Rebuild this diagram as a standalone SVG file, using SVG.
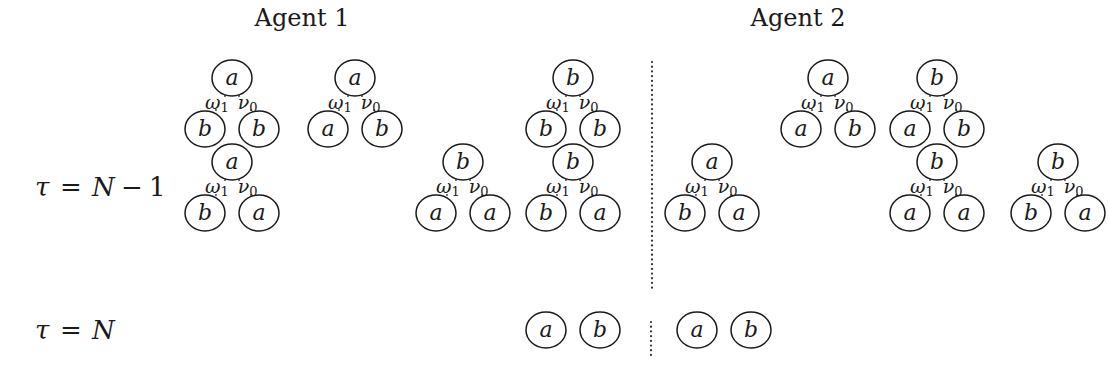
<svg xmlns="http://www.w3.org/2000/svg" width="1108" height="386" viewBox="0 0 1108 386">
  <style>
    .node text { font-family: "DejaVu Serif", "Liberation Serif", serif; font-style: italic; font-size: 22px; fill: #1a1a1a; text-anchor: middle; }
    .stub { stroke: #1a1a1a; stroke-width: 1.2; }
    .lbl { font-family: "DejaVu Serif", "Liberation Serif", serif; font-style: italic; font-size: 19px; fill: #1a1a1a; }
    .sub { font-style: normal; font-size: 13px; }
    .title { font-family: "DejaVu Serif", "Liberation Serif", serif; font-size: 24px; fill: #1a1a1a; text-anchor: middle; }
    .math { font-family: "DejaVu Serif", "Liberation Serif", serif; font-size: 26px; fill: #1a1a1a; }
    .it { font-style: italic; }
    .sep { stroke: #333; stroke-width: 2.2; stroke-dasharray: 0.1 4.6; stroke-linecap: round; }
  </style>
  <defs>
    <ellipse id="ring" cx="0" cy="0" rx="20" ry="18" fill="none" stroke="#1a1a1a" stroke-width="1.5"/>
  </defs>

  <rect width="1108" height="386" fill="#ffffff"/>

  <!-- headings -->
  <text class="title" x="302" y="26">Agent 1</text>
  <text class="title" x="798" y="26">Agent 2</text>

  <!-- time step labels -->
  <text class="math" y="196"><tspan class="it" x="35">τ</tspan><tspan x="60">=</tspan><tspan class="it" x="92">N</tspan><tspan x="121">−</tspan><tspan x="149">1</tspan></text>
  <text class="math" y="339"><tspan class="it" x="35">τ</tspan><tspan x="60">=</tspan><tspan class="it" x="92">N</tspan></text>

  <!-- separator between agents -->
  <line class="sep" x1="652" y1="62" x2="652" y2="290"/>
  <line class="sep" x1="651" y1="322" x2="651" y2="356"/>

  <!-- edge stubs and action labels -->
  <g id="connectors">
    <g id="edges-a1-t1">
      <line class="stub" x1="225" y1="95" x2="225" y2="97"/><line class="stub" x1="239" y1="95" x2="239" y2="97"/>
      <line class="stub" x1="216" y1="111" x2="216" y2="109"/><line class="stub" x1="251" y1="111" x2="251" y2="109"/>
      <text class="lbl" x="205" y="109">ω<tspan class="sub" dy="3">1</tspan><tspan dy="-3" dx="9">ν</tspan><tspan class="sub" dy="3">0</tspan></text>
    </g>
    <g id="edges-a1-t2">
      <line class="stub" x1="348" y1="95" x2="348" y2="97"/><line class="stub" x1="362" y1="95" x2="362" y2="97"/>
      <line class="stub" x1="339" y1="111" x2="339" y2="109"/><line class="stub" x1="374" y1="111" x2="374" y2="109"/>
      <text class="lbl" x="328" y="109">ω<tspan class="sub" dy="3">1</tspan><tspan dy="-3" dx="9">ν</tspan><tspan class="sub" dy="3">0</tspan></text>
    </g>
    <g id="edges-a1-t3">
      <line class="stub" x1="225" y1="179" x2="225" y2="181"/><line class="stub" x1="239" y1="179" x2="239" y2="181"/>
      <line class="stub" x1="216" y1="196" x2="216" y2="194"/><line class="stub" x1="251" y1="196" x2="251" y2="194"/>
      <text class="lbl" x="205" y="193">ω<tspan class="sub" dy="3">1</tspan><tspan dy="-3" dx="9">ν</tspan><tspan class="sub" dy="3">0</tspan></text>
    </g>
    <g id="edges-a1-t4">
      <line class="stub" x1="456" y1="179" x2="456" y2="181"/><line class="stub" x1="470" y1="179" x2="470" y2="181"/>
      <line class="stub" x1="447" y1="196" x2="447" y2="194"/><line class="stub" x1="482" y1="196" x2="482" y2="194"/>
      <text class="lbl" x="436" y="193">ω<tspan class="sub" dy="3">1</tspan><tspan dy="-3" dx="9">ν</tspan><tspan class="sub" dy="3">0</tspan></text>
    </g>
    <g id="edges-a1-t5">
      <line class="stub" x1="566" y1="95" x2="566" y2="97"/><line class="stub" x1="580" y1="95" x2="580" y2="97"/>
      <line class="stub" x1="557" y1="111" x2="557" y2="109"/><line class="stub" x1="592" y1="111" x2="592" y2="109"/>
      <text class="lbl" x="546" y="109">ω<tspan class="sub" dy="3">1</tspan><tspan dy="-3" dx="9">ν</tspan><tspan class="sub" dy="3">0</tspan></text>
    </g>
    <g id="edges-a1-t6">
      <line class="stub" x1="566" y1="179" x2="566" y2="181"/><line class="stub" x1="580" y1="179" x2="580" y2="181"/>
      <line class="stub" x1="557" y1="196" x2="557" y2="194"/><line class="stub" x1="592" y1="196" x2="592" y2="194"/>
      <text class="lbl" x="546" y="193">ω<tspan class="sub" dy="3">1</tspan><tspan dy="-3" dx="9">ν</tspan><tspan class="sub" dy="3">0</tspan></text>
    </g>
    <g id="edges-a2-t1">
      <line class="stub" x1="705" y1="179" x2="705" y2="181"/><line class="stub" x1="719" y1="179" x2="719" y2="181"/>
      <line class="stub" x1="696" y1="196" x2="696" y2="194"/><line class="stub" x1="731" y1="196" x2="731" y2="194"/>
      <text class="lbl" x="685" y="193">ω<tspan class="sub" dy="3">1</tspan><tspan dy="-3" dx="9">ν</tspan><tspan class="sub" dy="3">0</tspan></text>
    </g>
    <g id="edges-a2-t2">
      <line class="stub" x1="821" y1="95" x2="821" y2="97"/><line class="stub" x1="835" y1="95" x2="835" y2="97"/>
      <line class="stub" x1="812" y1="111" x2="812" y2="109"/><line class="stub" x1="847" y1="111" x2="847" y2="109"/>
      <text class="lbl" x="801" y="109">ω<tspan class="sub" dy="3">1</tspan><tspan dy="-3" dx="9">ν</tspan><tspan class="sub" dy="3">0</tspan></text>
    </g>
    <g id="edges-a2-t3">
      <line class="stub" x1="930" y1="95" x2="930" y2="97"/><line class="stub" x1="944" y1="95" x2="944" y2="97"/>
      <line class="stub" x1="921" y1="111" x2="921" y2="109"/><line class="stub" x1="956" y1="111" x2="956" y2="109"/>
      <text class="lbl" x="910" y="109">ω<tspan class="sub" dy="3">1</tspan><tspan dy="-3" dx="9">ν</tspan><tspan class="sub" dy="3">0</tspan></text>
    </g>
    <g id="edges-a2-t4">
      <line class="stub" x1="930" y1="179" x2="930" y2="181"/><line class="stub" x1="944" y1="179" x2="944" y2="181"/>
      <line class="stub" x1="921" y1="196" x2="921" y2="194"/><line class="stub" x1="956" y1="196" x2="956" y2="194"/>
      <text class="lbl" x="910" y="193">ω<tspan class="sub" dy="3">1</tspan><tspan dy="-3" dx="9">ν</tspan><tspan class="sub" dy="3">0</tspan></text>
    </g>
    <g id="edges-a2-t5">
      <line class="stub" x1="1051" y1="179" x2="1051" y2="181"/><line class="stub" x1="1065" y1="179" x2="1065" y2="181"/>
      <line class="stub" x1="1042" y1="196" x2="1042" y2="194"/><line class="stub" x1="1077" y1="196" x2="1077" y2="194"/>
      <text class="lbl" x="1031" y="193">ω<tspan class="sub" dy="3">1</tspan><tspan dy="-3" dx="9">ν</tspan><tspan class="sub" dy="3">0</tspan></text>
    </g>
  </g>

  <!-- Agent 1 nodes -->
  <g id="a1-t1-root" class="node" transform="translate(232,78)"><use href="#ring"/><text y="7">a</text></g>
  <g id="a1-t1-left" class="node" transform="translate(205,129)"><use href="#ring"/><text y="7">b</text></g>
  <g id="a1-t1-right" class="node" transform="translate(259,129)"><use href="#ring"/><text y="7">b</text></g>

  <g id="a1-t2-root" class="node" transform="translate(355,78)"><use href="#ring"/><text y="7">a</text></g>
  <g id="a1-t2-left" class="node" transform="translate(328,129)"><use href="#ring"/><text y="7">a</text></g>
  <g id="a1-t2-right" class="node" transform="translate(382,129)"><use href="#ring"/><text y="7">b</text></g>

  <g id="a1-t3-root" class="node" transform="translate(232,162)"><use href="#ring"/><text y="7">a</text></g>
  <g id="a1-t3-left" class="node" transform="translate(205,213)"><use href="#ring"/><text y="7">b</text></g>
  <g id="a1-t3-right" class="node" transform="translate(259,213)"><use href="#ring"/><text y="7">a</text></g>

  <g id="a1-t4-root" class="node" transform="translate(463,162)"><use href="#ring"/><text y="7">b</text></g>
  <g id="a1-t4-left" class="node" transform="translate(436,213)"><use href="#ring"/><text y="7">a</text></g>
  <g id="a1-t4-right" class="node" transform="translate(490,213)"><use href="#ring"/><text y="7">a</text></g>

  <g id="a1-t5-root" class="node" transform="translate(573,78)"><use href="#ring"/><text y="7">b</text></g>
  <g id="a1-t5-left" class="node" transform="translate(546,129)"><use href="#ring"/><text y="7">b</text></g>
  <g id="a1-t5-right" class="node" transform="translate(600,129)"><use href="#ring"/><text y="7">b</text></g>

  <g id="a1-t6-root" class="node" transform="translate(573,162)"><use href="#ring"/><text y="7">b</text></g>
  <g id="a1-t6-left" class="node" transform="translate(546,213)"><use href="#ring"/><text y="7">b</text></g>
  <g id="a1-t6-right" class="node" transform="translate(600,213)"><use href="#ring"/><text y="7">a</text></g>

  <g id="a1-final-a" class="node" transform="translate(546,330)"><use href="#ring"/><text y="7">a</text></g>
  <g id="a1-final-b" class="node" transform="translate(600,330)"><use href="#ring"/><text y="7">b</text></g>

  <!-- Agent 2 nodes -->
  <g id="a2-t1-root" class="node" transform="translate(712,162)"><use href="#ring"/><text y="7">a</text></g>
  <g id="a2-t1-left" class="node" transform="translate(685,213)"><use href="#ring"/><text y="7">b</text></g>
  <g id="a2-t1-right" class="node" transform="translate(739,213)"><use href="#ring"/><text y="7">a</text></g>

  <g id="a2-t2-root" class="node" transform="translate(828,78)"><use href="#ring"/><text y="7">a</text></g>
  <g id="a2-t2-left" class="node" transform="translate(801,129)"><use href="#ring"/><text y="7">a</text></g>
  <g id="a2-t2-right" class="node" transform="translate(855,129)"><use href="#ring"/><text y="7">b</text></g>

  <g id="a2-t3-root" class="node" transform="translate(937,78)"><use href="#ring"/><text y="7">b</text></g>
  <g id="a2-t3-left" class="node" transform="translate(910,129)"><use href="#ring"/><text y="7">a</text></g>
  <g id="a2-t3-right" class="node" transform="translate(964,129)"><use href="#ring"/><text y="7">b</text></g>

  <g id="a2-t4-root" class="node" transform="translate(937,162)"><use href="#ring"/><text y="7">b</text></g>
  <g id="a2-t4-left" class="node" transform="translate(910,213)"><use href="#ring"/><text y="7">a</text></g>
  <g id="a2-t4-right" class="node" transform="translate(964,213)"><use href="#ring"/><text y="7">a</text></g>

  <g id="a2-t5-root" class="node" transform="translate(1058,162)"><use href="#ring"/><text y="7">b</text></g>
  <g id="a2-t5-left" class="node" transform="translate(1031,213)"><use href="#ring"/><text y="7">b</text></g>
  <g id="a2-t5-right" class="node" transform="translate(1085,213)"><use href="#ring"/><text y="7">a</text></g>

  <g id="a2-final-a" class="node" transform="translate(697,330)"><use href="#ring"/><text y="7">a</text></g>
  <g id="a2-final-b" class="node" transform="translate(751,330)"><use href="#ring"/><text y="7">b</text></g>
</svg>
